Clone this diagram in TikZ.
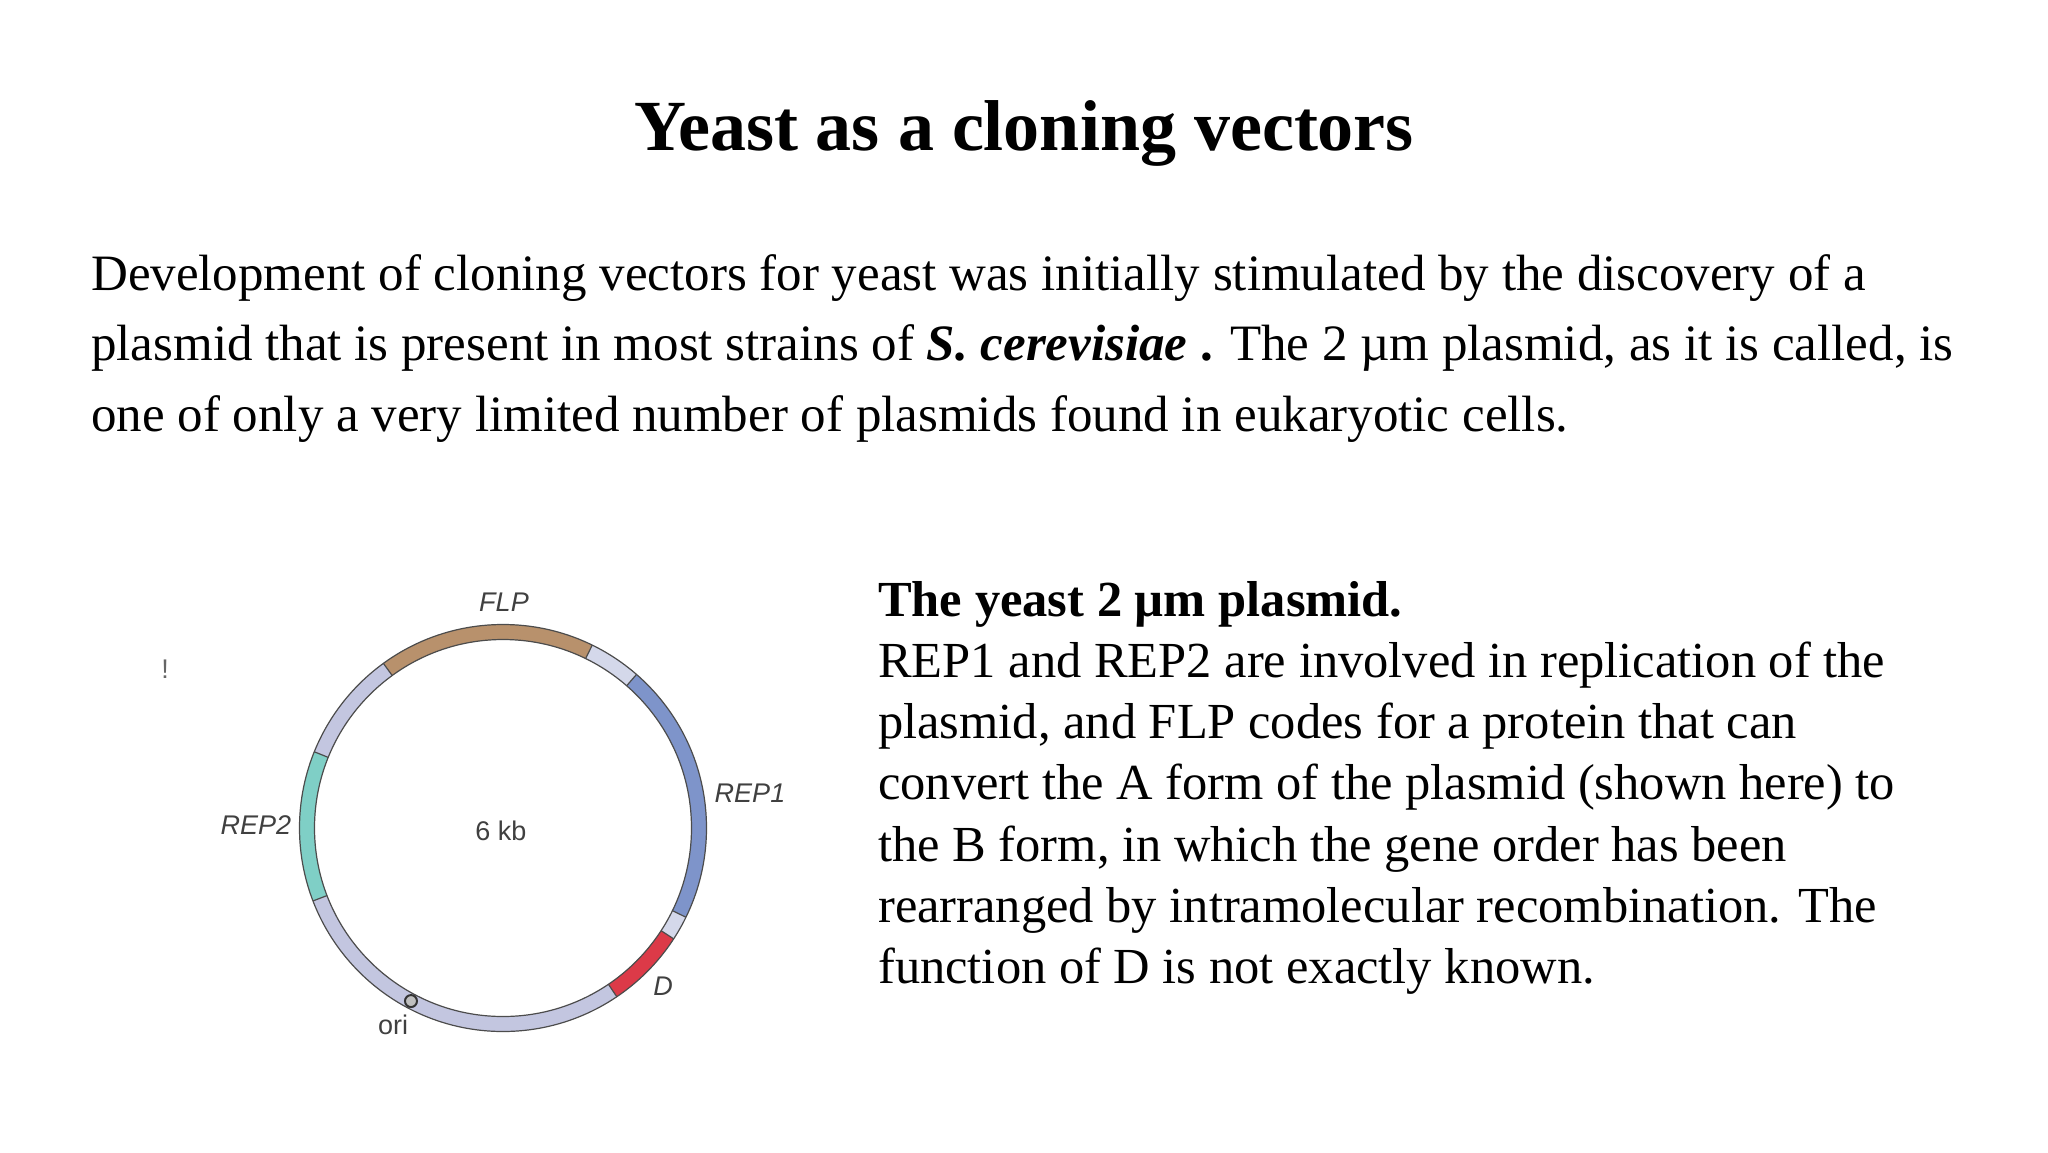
\documentclass[tikz,border=0pt]{standalone}
\usepackage{fontspec}
\setmainfont{Liberation Serif}
\newfontfamily\lsans{Liberation Sans}
\definecolor{ringgray}{HTML}{C3C6E0}
\definecolor{flpc}{HTML}{B8916C}
\definecolor{rep1c}{HTML}{7E94CA}
\definecolor{rep2c}{HTML}{7FCFC6}
\definecolor{lightc}{HTML}{D4D8EA}
\definecolor{dc}{HTML}{DC3A48}
\begin{document}
\begin{tikzpicture}[x=1pt,y=-1pt,
  body/.style={anchor=base west,inner sep=0pt,font=\fontsize{51}{60}\selectfont},
  rbody/.style={anchor=base west,inner sep=0pt,font=\fontsize{50.5}{60}\selectfont},
  lab/.style={inner sep=0pt,text=black!75,font=\lsans\fontsize{27}{32}\selectfont},
  ilab/.style={lab,font=\lsans\itshape\fontsize{27}{32}\selectfont}]
\useasboundingbox (0,0) rectangle (2048,1152);
\node[anchor=base,inner sep=0pt,font=\bfseries\fontsize{72}{80}\selectfont] (title) at (1024,150) {Yeast as a cloning vectors};
\node[body] (p1) at (91,290) {Development of cloning vectors for yeast was initially stimulated by the discovery of a};
\node[body] (p2) at (91,360) {plasmid that is present in most strains of \textbf{\textit{S. cerevisiae}} \textbf{.} The 2 µm plasmid, as it is called, is};
\node[body] (p3) at (91,431) {one of only a very limited number of plasmids found in eukaryotic cells.};
\node[rbody,font=\bfseries\fontsize{50.5}{60}\selectfont] (r0) at (878,616) {The yeast 2 µm plasmid.};
\node[rbody] (r1) at (878,677) {REP1 and REP2 are involved in replication of the};
\node[rbody] (r2) at (878,738) {plasmid, and FLP codes for a protein that can};
\node[rbody] (r3) at (878,799) {convert the A form of the plasmid (shown here) to};
\node[rbody] (r4) at (878,861) {the B form, in which the gene order has been};
\node[rbody] (r5) at (878,922) {rearranged by intramolecular recombination. The};
\node[rbody] (r6) at (878,983) {function of D is not exactly known.};
% plasmid
\begin{scope}[y=1pt]
\def\arcseg#1#2#3{\draw[line width=15pt,draw=#3] (503,-828) ++(#1:196) arc[start angle=#1,end angle=#2,radius=196];}
\arcseg{126}{304}{ringgray}
\arcseg{126}{64}{flpc}
\arcseg{64}{49}{lightc}
\arcseg{49}{-26}{rep1c}
\arcseg{-26}{-33}{lightc}
\arcseg{-33}{-56}{dc}
\arcseg{201}{158}{rep2c}
\draw[black!70,line width=1.2pt] (503,-828) circle[radius=203.5];
\draw[black!70,line width=1.2pt] (503,-828) circle[radius=188.5];
\foreach \a in {126,64,49,-26,-33,-56,201,158}
  \draw[black!70,line width=1.2pt] (503,-828) ++(\a:188.5) -- ++(\a:15);
\draw[black!80,line width=2pt,fill=gray!50] (503,-828) ++(242:196) circle[radius=6];
\end{scope}
\node[ilab] (flp) at (504,602) {FLP};
\node[ilab] (rep1) at (750,793) {REP1};
\node[ilab] (rep2) at (256,825) {REP2};
\node[lab] (kb) at (501,831) {6 kb};
\node[ilab] (d) at (663,986) {D};
\node[lab] (ori) at (393,1025) {ori};
\node[lab,text=black!60] (bang) at (165,669) {!};
\end{tikzpicture}
\end{document}
